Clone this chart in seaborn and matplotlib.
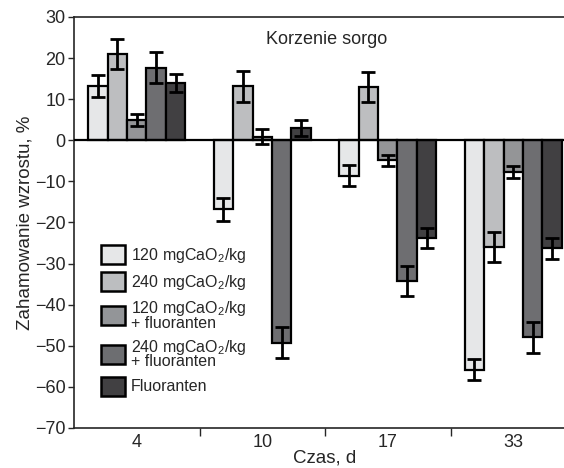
import matplotlib
matplotlib.use("Agg")
import matplotlib.pyplot as plt
import seaborn as sns
import pandas as pd
import numpy as np
from matplotlib.patches import Patch

days = ["4", "10", "17", "33"]
series = ["120 mgCaO$_2$/kg", "240 mgCaO$_2$/kg", "120 mgCaO$_2$/kg\n+ fluoranten",
          "240 mgCaO$_2$/kg\n+ fluoranten", "Fluoranten"]
v120 = [13.2, -16.8, -8.6, -55.8]
v240 = [21.0, 13.1, 13.0, -26.0]
v120f = [5.0, 0.9, -4.9, -7.7]
v240f = [17.7, -49.2, -34.2, -47.9]
vF = [14.0, 3.0, -23.8, -26.3]
e120 = [2.6, 2.8, 2.5, 2.6]
e240 = [3.7, 3.7, 3.6, 3.6]
e120f = [1.4, 1.8, 1.4, 1.4]
e240f = [3.7, 3.7, 3.6, 3.8]
eF = [2.2, 2.0, 2.5, 2.5]
colors = ["#e6e7e8", "#bcbec0", "#939598", "#6d6e71", "#414042"]

vals = [v120, v240, v120f, v240f, vF]
errs = [e120, e240, e120f, e240f, eF]
rows = []
for s, vv, ee in zip(series, vals, errs):
    for d, v, e in zip(days, vv, ee):
        rows.append({"day": d, "series": s, "value": v, "err": e})
df = pd.DataFrame(rows)

sns.set_style("ticks")
plt.rcParams["font.family"] = ["Liberation Sans", "DejaVu Sans"]
plt.rcParams["mathtext.fontset"] = "custom"
plt.rcParams["mathtext.rm"] = "Liberation Sans"
plt.rcParams["mathtext.it"] = "Liberation Sans:italic"

fig = plt.figure(figsize=(5.64, 4.68), dpi=100)
ax = fig.add_axes([74 / 564, 1 - 428 / 468, (576 - 74) / 564, (428 - 17) / 468])

sns.barplot(data=df, x="day", y="value", hue="series", order=days, hue_order=series,
            palette=colors, errorbar=None, width=0.775, edgecolor="black", linewidth=1.6,
            ax=ax, legend=False, zorder=2)

bars = [p for p in ax.patches if p.get_width() > 0]
i = 0
for s, ee, vv in zip(series, errs, vals):
    for d in range(len(days)):
        p = bars[i]; i += 1
        xc = p.get_x() + p.get_width() / 2
        ax.errorbar(xc, p.get_y() + p.get_height(), yerr=ee[d], fmt="none", ecolor="black",
                    elinewidth=2, capsize=5, capthick=2, zorder=3)

ax.axhline(0, color="black", lw=1.6, zorder=4)
ax.set_ylim(-70, 30)
ax.set_yticks(np.arange(-70, 31, 10))
ax.set_xlim(-0.5, 3.5)
ax.set_xticks(range(4))
ax.set_xticks([0.5, 1.5, 2.5], minor=True)
ax.tick_params(axis="x", which="major", length=0, labelsize=13, pad=4)
ax.tick_params(axis="x", which="minor", length=6, width=1, direction="out")
ax.tick_params(axis="y", length=4, width=1, labelsize=13, pad=2)
for sp in ax.spines.values():
    sp.set_linewidth(1.2)
ax.spines["right"].set_visible(False)
ax.spines["top"].set_visible(True)
ax.set_xlabel("Czas, d", fontsize=13.5, labelpad=-1)
ax.set_ylabel("Zahamowanie wzrostu, %", fontsize=13.5, labelpad=1)
ax.text((327 - 74) / 502, 0.966, "Korzenie sorgo", transform=ax.transAxes, ha="center",
        va="top", fontsize=13)

handles = [Patch(facecolor=c, edgecolor="black", linewidth=1.8) for c in colors]
leg = ax.legend(handles, series, loc="lower left", bbox_to_anchor=(0.026, 0.044),
                frameon=False, fontsize=11.5, handlelength=1.45, handleheight=1.45,
                handletextpad=0.4, labelspacing=0.45)
for t in leg.get_texts():
    t.set_linespacing(0.8)

fig.savefig("out.png", dpi=100)
